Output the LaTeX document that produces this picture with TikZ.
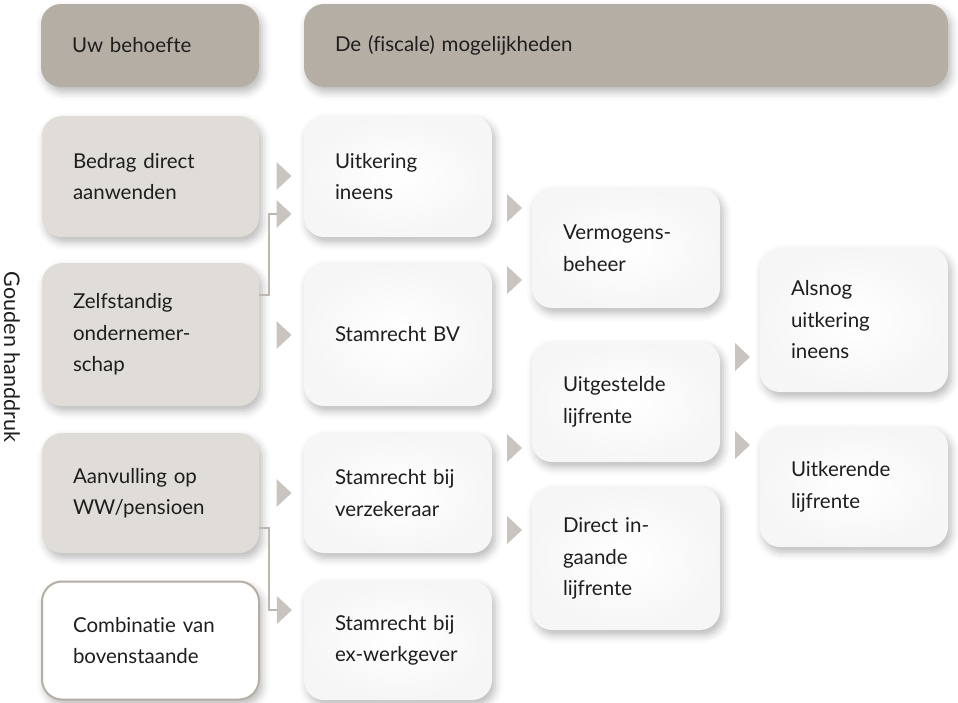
\documentclass[tikz,border=0pt]{standalone}
\usepackage{fontspec}
\setmainfont{Lato}[Ligatures=NoCommon]
\usetikzlibrary{shadows.blur,calc}
\definecolor{hdr}{HTML}{B5AEA5}
\definecolor{lft}{HTML}{E0DDD8}
\definecolor{tric}{HTML}{C9C4BD}
\definecolor{ln}{HTML}{BDB7B0}
\definecolor{txt}{HTML}{1E1E1E}
\tikzset{
  base/.style={rounded corners=20pt, inner xsep=31pt, inner ysep=0pt, align=left,
    text=txt, font=\fontsize{20.5}{31.5}\selectfont,
    blur shadow={shadow xshift=3pt, shadow yshift=-5pt, shadow blur radius=8pt, shadow opacity=28}},
  hbox/.style={base, fill=hdr},
  lbox/.style={base, fill=lft, minimum width=217pt, text width=155pt},
  wbox/.style={base, inner color=white, outer color=black!3.5, minimum width=188pt, text width=126pt},
  obox/.style={base, fill=white, draw=hdr, line width=2pt, minimum width=217pt, text width=155pt},
  trifill/.style={fill=tric},
  conn/.style={draw=ln, line width=2pt}
}
\newcommand\tri[4]{%
  \coordinate (#4) at ($(#1.east |- 0,#3)!0.5!(#2.west |- 0,#3)$);
  \fill[trifill] ([xshift=-5pt,yshift=14pt]#4) -- ([xshift=10pt]#4) -- ([xshift=-5pt,yshift=-14pt]#4) -- cycle;}
\begin{document}
\begin{tikzpicture}[x=1pt,y=-1pt]
\useasboundingbox (0,0) rectangle (958,702);
% headers
\node[hbox, minimum width=218pt, minimum height=83pt, text width=156pt] (h1) at (150,45.5) {Uw behoefte};
\node[hbox, minimum width=644pt, minimum height=83pt, text width=582pt] (h2) at (626,45.5) {De (fiscale) mogelijkheden};
% left column
\node[lbox, minimum height=121pt] (b1) at (150.5,176.5) {Bedrag direct\\aanwenden};
\node[lbox, minimum height=143pt] (b2) at (150.5,334.5) {Zelfstandig\\ondernemer-\\schap};
\node[lbox, minimum height=120pt] (b3) at (150.5,493) {Aanvulling op\\WW/pensioen};
\node[obox, minimum height=118pt] (b4) at (150.5,640.5) {Combinatie van\\bovenstaande};
% column 2
\node[wbox, minimum height=121pt] (c1) at (398,176.5) {Uitkering\\ineens};
\node[wbox, minimum height=143pt] (c2) at (398,334.5) {Stamrecht BV};
\node[wbox, minimum height=120pt] (c3) at (398,493) {Stamrecht bij\\verzekeraar};
\node[wbox, minimum height=119pt] (c4) at (398,640.5) {Stamrecht bij\\ex-werkgever};
% column 3
\node[wbox, minimum height=120pt] (d1) at (626,248) {Vermogens-\\beheer};
\node[wbox, minimum height=120pt] (d2) at (626,402) {Uitgestelde\\lijfrente};
\node[wbox, minimum height=143pt] (d3) at (626,558.5) {Direct in-\\gaande\\lijfrente};
% column 4
\node[wbox, minimum height=144pt] (e1) at (854,320) {Alsnog\\uitkering\\ineens};
\node[wbox, minimum height=120pt] (e2) at (854,487) {Uitkerende\\lijfrente};
% side label
\node[rotate=-90, text=txt, font=\fontsize{21.5}{24}\selectfont] (side) at (12,357) {Gouden handdruk};
% triangles
\tri{b1}{c1}{176}{a1}
\tri{b1}{c1}{214}{a2}
\tri{b2}{c2}{335}{a3}
\tri{b3}{c3}{493}{a4}
\tri{b4}{c4}{610}{a5}
\tri{c1}{d1}{208}{a6}
\tri{c2}{d1}{280}{a7}
\tri{c3}{d2}{448}{a8}
\tri{c3}{d3}{530}{a9}
\tri{d2}{e1}{357}{a10}
\tri{d2}{e2}{445}{a11}
% elbow connectors
\coordinate (k1) at (269,295);
\draw[conn] (b2.east |- k1) -- (k1) |- ([xshift=-5pt]a2);
\coordinate (k2) at (269,528);
\draw[conn] (b3.east |- k2) -- (k2) |- ([xshift=-5pt]a5);
\end{tikzpicture}
\end{document}
